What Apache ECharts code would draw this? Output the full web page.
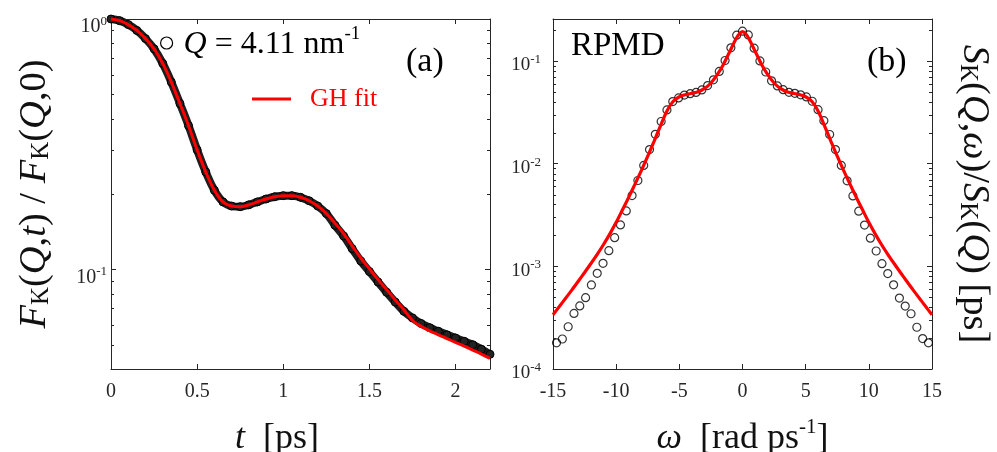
<!DOCTYPE html>
<html><head><meta charset="utf-8">
<script src="https://cdn.jsdelivr.net/npm/echarts@6/dist/echarts.min.js"></script>
<style>html,body{margin:0;padding:0;background:#fff}#c{width:997px;height:452px}</style>
</head><body><div id="c"></div>
<script>
// ---------- Panel (a): intermediate scattering function ----------
const tValues = [0,0.05,0.10,0.15,0.20,0.25,0.30,0.35,0.40,0.45,0.50,0.55,0.60,0.65,0.70,0.75,0.80,0.85,0.90,0.95,
  1.00,1.05,1.10,1.15,1.20,1.25,1.30,1.35,1.40,1.45,1.50,1.55,1.60,1.65,1.70,1.75,1.80,1.85,1.90,1.95,2.00,2.05,2.10,2.15,2.20];
const fkData = [1.000,0.985,0.950,0.900,0.835,0.760,0.665,0.560,0.460,0.375,0.300,0.245,0.207,0.186,0.179,0.178,0.181,0.186,0.191,0.195,
  0.197,0.197,0.194,0.188,0.179,0.167,0.150,0.136,0.121,0.108,0.098,0.089,0.081,0.074,0.068,0.0640,0.0608,0.0585,0.0566,0.0548,0.0532,0.0516,0.0500,0.0480,0.0458];
const fkFit = [1.000,0.985,0.950,0.900,0.835,0.760,0.665,0.560,0.460,0.375,0.300,0.245,0.207,0.186,0.179,0.178,0.181,0.186,0.191,0.195,
  0.197,0.197,0.194,0.188,0.179,0.167,0.153,0.139,0.124,0.111,0.1005,0.091,0.083,0.0755,0.069,0.0625,0.0592,0.0568,0.0548,0.0529,0.0511,0.0494,0.0476,0.0459,0.0441];

// ---------- Panel (b): dynamic structure factor ----------
const omegaValues = [-14.72,-14.26,-13.80,-13.34,-12.88,-12.42,-11.96,-11.50,-11.04,-10.58,-10.12,-9.66,-9.20,-8.74,-8.28,-7.82,-7.36,-6.90,-6.44,-5.98,-5.52,-5.06,-4.60,-4.14,-3.68,-3.22,-2.76,-2.30,-1.84,-1.38,-0.92,-0.46,
  0,0.46,0.92,1.38,1.84,2.30,2.76,3.22,3.68,4.14,4.60,5.06,5.52,5.98,6.44,6.90,7.36,7.82,8.28,8.74,9.20,9.66,10.12,10.58,11.04,11.50,11.96,12.42,12.88,13.34,13.80,14.26,14.72];
const skData = [1.80e-4,1.96e-4,2.58e-4,3.48e-4,4.11e-4,4.95e-4,6.58e-4,8.55e-4,1.07e-3,1.42e-3,1.90e-3,2.53e-3,3.46e-3,4.88e-3,6.85e-3,9.60e-3,1.37e-2,1.93e-2,2.57e-2,3.33e-2,4.02e-2,4.36e-2,4.65e-2,4.80e-2,4.93e-2,5.22e-2,5.75e-2,6.55e-2,7.90e-2,0.101,0.134,0.178,
  0.195,0.179,0.133,0.100,0.078,0.064,0.0571,0.0525,0.0495,0.0484,0.0468,0.0446,0.0405,0.0335,0.0262,0.0192,0.0137,9.6e-3,6.8e-3,4.85e-3,3.44e-3,2.52e-3,1.88e-3,1.41e-3,1.06e-3,8.5e-4,6.6e-4,4.9e-4,4.1e-4,3.45e-4,2.55e-4,1.98e-4,1.80e-4];
const omegaFit = [-15,-14.5,-14,-13.5,-13,-12.5,-12,-11.5,-11,-10.5,-10,-9.5,-9,-8.5,-8,-7.5,-7,-6.5,-6,-5.5,-5,-4.5,-4,-3.5,-3,-2.5,-2,-1.5,-1,-0.5,-0.25,
  0,0.25,0.5,1,1.5,2,2.5,3,3.5,4,4.5,5,5.5,6,6.5,7,7.5,8,8.5,9,9.5,10,10.5,11,11.5,12,12.5,13,13.5,14,14.5,15];
const skFit = [3.37e-4,4.06e-4,4.89e-4,5.89e-4,7.15e-4,8.7e-4,1.065e-3,1.31e-3,1.63e-3,2.07e-3,2.68e-3,3.55e-3,4.72e-3,6.35e-3,8.6e-3,1.18e-2,1.65e-2,2.32e-2,3.22e-2,4.02e-2,4.48e-2,4.70e-2,4.84e-2,5.0e-2,5.40e-2,6.10e-2,7.35e-2,9.3e-2,0.124,0.165,0.184,
  0.193,0.184,0.165,0.124,9.3e-2,7.35e-2,6.10e-2,5.40e-2,5.0e-2,4.84e-2,4.70e-2,4.48e-2,4.02e-2,3.22e-2,2.32e-2,1.65e-2,1.18e-2,8.6e-3,6.35e-3,4.72e-3,3.55e-3,2.68e-3,2.07e-3,1.63e-3,1.31e-3,1.065e-3,8.7e-4,7.15e-4,5.89e-4,4.89e-4,4.06e-4,3.37e-4];

// ---------- Axis ticks ----------
const minorTicksA = [0.05,0.06,0.07,0.08,0.09,0.2,0.3,0.4,0.5,0.6,0.7,0.8,0.9];
const minorTicksB = [2e-4,3e-4,4e-4,5e-4,6e-4,7e-4,8e-4,9e-4,2e-3,3e-3,4e-3,5e-3,6e-3,7e-3,8e-3,9e-3,2e-2,3e-2,4e-2,5e-2,6e-2,7e-2,8e-2,9e-2,0.2];

const SERIF = '"Liberation Serif","Times New Roman",serif';
const AX = '#262626';
const TXT = '#111';

function zip(a, b) { return a.map((v, i) => [v, b[i]]); }

function logLabel(v) {
  const e = Math.log10(v), r = Math.round(e);
  if (Math.abs(e - r) > 1e-6) return '';
  return '{b|10}{s|' + (r === 0 ? '0' : String(r)) + '}';
}
function logRich(size) {
  return {
    b: {fontSize: size, fontFamily: SERIF, color: AX, lineHeight: size + 1, verticalAlign: 'bottom'},
    s: {fontSize: 13, fontFamily: SERIF, color: AX, lineHeight: 13, padding: [0, 0, 9, 0], verticalAlign: 'bottom'}
  };
}
const nameRich = {
  i: {fontStyle: 'italic', fontSize: 38.5, fontFamily: SERIF, color: TXT, lineHeight: 44, verticalAlign: 'bottom'},
  r: {fontSize: 38.5, fontFamily: SERIF, color: TXT, lineHeight: 44, verticalAlign: 'bottom'},
  k: {fontSize: 25, fontFamily: SERIF, color: TXT, lineHeight: 25, verticalAlign: 'bottom'},
  s: {fontSize: 22, fontFamily: SERIF, color: TXT, lineHeight: 22, verticalAlign: 'top'}
};
const xNameRich = {
  i: {fontStyle: 'italic', fontSize: 36, fontFamily: SERIF, color: TXT, lineHeight: 40, verticalAlign: 'bottom'},
  r: {fontSize: 36, fontFamily: SERIF, color: TXT, lineHeight: 40, verticalAlign: 'bottom'},
  s: {fontSize: 21, fontFamily: SERIF, color: TXT, lineHeight: 21, verticalAlign: 'top'}
};

const axLine = {show: true, onZero: false, lineStyle: {color: AX, width: 1}};
const axTick = {show: true, inside: true, length: 5, lineStyle: {color: AX, width: 1}};

function xAxes(grid, min, max, interval, decimals, name, shift) {
  const base = {gridIndex: grid, type: 'value', min, max, interval, splitLine: {show: false}, axisLine: axLine, axisTick: axTick};
  return [
    Object.assign({}, base, {
      position: 'bottom',
      axisLabel: {show: true, margin: 13, color: AX, fontSize: 20, fontFamily: SERIF,
        formatter: v => (Math.abs(v / interval - Math.round(v / interval)) < 1e-6 ? String(+v.toFixed(decimals)) : '')},
      name, nameLocation: 'middle', nameGap: 48,
      nameTextStyle: {rich: xNameRich, fontSize: 36, fontFamily: SERIF, color: TXT, padding: shift}
    }),
    Object.assign({}, base, {position: 'top', axisLabel: {show: false}})
  ];
}

function yAxes(grid, min, max, labelMargin, labelPad, labelSize, name, nameGap, nameRotate, nameOnRight) {
  const base = {gridIndex: grid, type: 'log', logBase: 10, min, max, splitLine: {show: false}, axisLine: axLine, axisTick: axTick, minorTick: {show: false}};
  const left = Object.assign({}, base, {
    position: 'left',
    axisLabel: {show: true, margin: labelMargin, formatter: logLabel, rich: logRich(labelSize), padding: [labelPad, 0, 0, 0]}
  });
  const right = Object.assign({}, base, {position: 'right', axisLabel: {show: false}});
  const named = nameOnRight ? right : left;
  Object.assign(named, {name, nameLocation: 'middle', nameGap, nameRotate,
    nameTextStyle: {rich: nameRich, fontSize: 38.5, fontFamily: SERIF, color: TXT}});
  return [left, right];
}

function minorTickSeries(xi, yi, xv, ticks) {
  return {
    type: 'custom', xAxisIndex: xi, yAxisIndex: yi, silent: true, clip: false, z: 10,
    data: ticks.map(v => [xv, v]),
    renderItem: (params, api) => {
      const cs = params.coordSys;
      const y = Math.round(api.coord([api.value(0), api.value(1)])[1]) + 0.5;
      const st = {stroke: AX, lineWidth: 1};
      return {type: 'group', children: [
        {type: 'line', shape: {x1: cs.x, y1: y, x2: cs.x + 3, y2: y}, style: st},
        {type: 'line', shape: {x1: cs.x + cs.width, y1: y, x2: cs.x + cs.width - 3, y2: y}, style: st}
      ]};
    }
  };
}

const xa = xAxes(0, 0, 2.2, 0.5, 1, '{i|t}{r|  [ps]}', [0, 47, 0, 0]);
const xb = xAxes(1, -15, 15, 5, 0, '{i|ω}{r|  [rad ps}{s|-1}{r|]}', [0, 0, 0, 0]);
const ya = yAxes(0, 0.04, 1, 4, 15, 20, '{i|F}{k|K}{r|(}{i|Q}{r|,}{i|t}{r|) / }{i|F}{k|K}{r|(}{i|Q}{r|,0)}', 57, 90, false);
const yb = yAxes(1, 1e-4, 0.256, 12, 8, 19, '{i|S}{k|K}{r|(}{i|Q}{r|,}{i|ω}{r|)/}{i|S}{k|K}{r|(}{i|Q}{r|) [ps]}', 23, -90, true);

const chart = echarts.init(document.getElementById('c'), null, {renderer: 'canvas', width: 997, height: 452});
chart.setOption({
  animation: false,
  backgroundColor: '#fff',
  grid: [
    {left: 111, top: 19, width: 379, height: 350, outerBoundsMode: 'none', containLabel: false},
    {left: 553, top: 19, width: 379, height: 350, outerBoundsMode: 'none', containLabel: false}
  ],
  xAxis: [xa[0], xa[1], xb[0], xb[1]],
  yAxis: [ya[0], ya[1], yb[0], yb[1]],
  legend: [
    {
      left: 160, top: 25, padding: 0, itemWidth: 12, itemHeight: 12, selectedMode: false,
      data: [{name: 'Q = 4.11 nm-1', icon: 'circle', itemStyle: {color: '#fff', borderColor: '#000', borderWidth: 1.2}}],
      formatter: () => '{i|Q}{r| = 4.11 nm}{s|-1}',
      textStyle: {color: '#000', fontFamily: SERIF, fontSize: 32, padding: [0, 0, 0, 6],
        rich: {
          i: {fontStyle: 'italic', fontSize: 32, fontFamily: SERIF, color: '#000', lineHeight: 36, verticalAlign: 'bottom'},
          r: {fontSize: 32, fontFamily: SERIF, color: '#000', lineHeight: 36, verticalAlign: 'bottom'},
          s: {fontSize: 19, fontFamily: SERIF, color: '#000', lineHeight: 19, verticalAlign: 'top'}
        }}
    },
    {
      left: 252, top: 84, padding: 0, itemWidth: 39, itemHeight: 3, selectedMode: false,
      data: [{name: 'GH fit', icon: 'rect', itemStyle: {color: '#ff0000'}}],
      textStyle: {color: '#ff0000', fontFamily: SERIF, fontSize: 26, lineHeight: 30, padding: [0, 0, 0, 14]}
    }
  ],
  graphic: [
    {type: 'text', x: 406, y: 62, style: {text: '(a)', font: '34px ' + SERIF, fill: '#000', align: 'left', verticalAlign: 'middle', textAlign: 'left', textVerticalAlign: 'middle'}},
    {type: 'text', x: 867, y: 62, style: {text: '(b)', font: '34px ' + SERIF, fill: '#000', align: 'left', verticalAlign: 'middle', textAlign: 'left', textVerticalAlign: 'middle'}},
    {type: 'text', x: 571, y: 46, style: {text: 'RPMD', font: '33px ' + SERIF, fill: '#000', align: 'left', verticalAlign: 'middle', textAlign: 'left', textVerticalAlign: 'middle'}}
  ],
  series: [
    {
      name: 'Q = 4.11 nm-1', type: 'line', xAxisIndex: 0, yAxisIndex: 0, clip: false,
      data: zip(tValues, fkData), smooth: 0.4,
      symbol: 'circle', symbolSize: 8, showSymbol: true,
      itemStyle: {color: '#222', borderColor: '#000', borderWidth: 1},
      lineStyle: {color: '#1e1e1e', width: 8}, z: 2
    },
    {
      name: 'GH fit', type: 'line', xAxisIndex: 0, yAxisIndex: 0,
      data: zip(tValues, fkFit), smooth: 0.4, showSymbol: false, symbol: 'none',
      itemStyle: {color: '#ff0000'}, lineStyle: {color: '#ff0000', width: 3}, z: 3
    },
    {
      name: 'RPMD S(Q,w)', type: 'scatter', xAxisIndex: 2, yAxisIndex: 2,
      data: zip(omegaValues, skData), symbol: 'circle', symbolSize: 8,
      itemStyle: {color: 'rgba(0,0,0,0)', borderColor: '#000', borderWidth: 1.2}, z: 2
    },
    {
      name: 'RPMD GH fit', type: 'line', xAxisIndex: 2, yAxisIndex: 2,
      data: zip(omegaFit, skFit), smooth: 0.3, showSymbol: false, symbol: 'none',
      itemStyle: {color: '#ff0000'}, lineStyle: {color: '#ff0000', width: 3.2}, z: 3
    },
    minorTickSeries(0, 0, 1, minorTicksA),
    minorTickSeries(2, 2, 0, minorTicksB)
  ]
});
</script></body></html>
